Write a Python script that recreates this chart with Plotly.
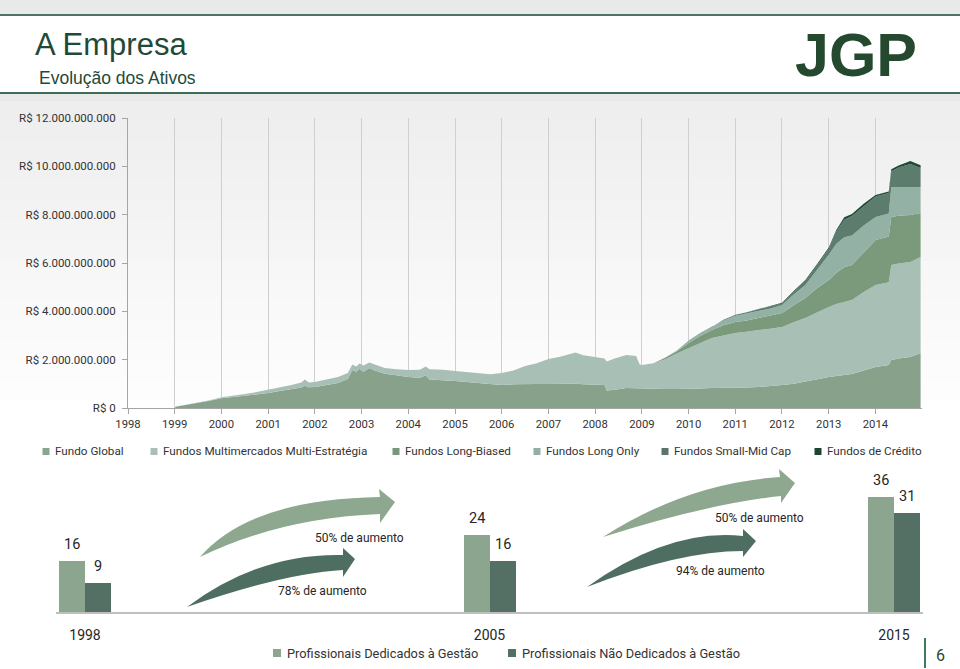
import plotly.graph_objects as go

W, H = 960, 669


def px(x):
    return x / W


def py(y):
    return 1 - y / H


# ---------------- DATA: AUM by fund (R$ billions) ----------------
dates = [
    "1999-01-05", "1999-04-01", "1999-07-01", "1999-10-01", "2000-01-03", "2000-04-03",
    "2000-07-03", "2000-10-02", "2001-01-02", "2001-04-02", "2001-07-02", "2001-09-17",
    "2001-10-15", "2001-11-15", "2002-01-02", "2002-04-01", "2002-07-01", "2002-09-16",
    "2002-10-21", "2002-11-20", "2002-12-16", "2003-01-15", "2003-03-03", "2003-04-15",
    "2003-07-01", "2003-10-01", "2004-01-02", "2004-04-01", "2004-05-17", "2004-06-15",
    "2004-10-01", "2005-01-03", "2005-07-01", "2005-10-03", "2006-01-02", "2006-04-03",
    "2006-07-03", "2006-10-02", "2007-01-02", "2007-04-02", "2007-08-01", "2007-10-01",
    "2008-01-02", "2008-03-14", "2008-04-01", "2008-06-02", "2008-09-01", "2008-11-17",
    "2008-12-15", "2009-01-02", "2009-04-01", "2009-07-01", "2009-10-01", "2010-01-04",
    "2010-04-01", "2010-07-01", "2010-10-01", "2011-01-03", "2011-04-01", "2011-07-01",
    "2011-10-03", "2012-01-02", "2012-04-02", "2012-07-02", "2012-10-01", "2012-11-15",
    "2013-01-02", "2013-03-01", "2013-05-02", "2013-07-01", "2013-10-01", "2014-01-02",
    "2014-04-15", "2014-05-05", "2014-07-01", "2014-10-01", "2014-12-20",
]
fundo_global = [
    0.05, 0.12, 0.20, 0.30, 0.40, 0.45, 0.50, 0.55, 0.62, 0.70, 0.79, 0.85,
    0.92, 0.86, 0.87, 0.95, 1.03, 1.20, 1.57, 1.50, 1.62, 1.50, 1.65, 1.55,
    1.42, 1.35, 1.28, 1.25, 1.35, 1.18, 1.15, 1.12, 1.03, 1.00, 0.95, 0.98,
    1.00, 0.99, 0.99, 1.00, 1.00, 0.98, 0.95, 0.95, 0.72, 0.75, 0.83, 0.82,
    0.80, 0.79, 0.79, 0.79, 0.79, 0.79, 0.81, 0.83, 0.83, 0.83, 0.85, 0.87,
    0.90, 0.95, 1.00, 1.08, 1.18, 1.23, 1.28, 1.33, 1.38, 1.41, 1.55, 1.70,
    1.78, 1.99, 2.05, 2.11, 2.28,
]
multi_estrategia = [
    0.00, 0.01, 0.02, 0.02, 0.04, 0.05, 0.08, 0.11, 0.13, 0.15, 0.16, 0.20,
    0.26, 0.20, 0.21, 0.23, 0.25, 0.25, 0.23, 0.22, 0.22, 0.26, 0.23, 0.25,
    0.23, 0.25, 0.29, 0.33, 0.37, 0.42, 0.43, 0.41, 0.43, 0.40, 0.50, 0.57,
    0.74, 0.86, 1.04, 1.12, 1.30, 1.20, 1.16, 1.10, 1.20, 1.30, 1.36, 1.33,
    1.00, 0.99, 1.06, 1.23, 1.46, 1.69, 1.89, 2.07, 2.17, 2.27, 2.30, 2.36,
    2.38, 2.40, 2.55, 2.64, 2.77, 2.84, 2.90, 2.97, 3.02, 3.06, 3.25, 3.39,
    3.42, 3.93, 3.93, 3.93, 3.97,
]
long_biased = [0.0] * 51 + [
    0.06, 0.10, 0.22, 0.28, 0.33, 0.42, 0.46, 0.47, 0.49,
    0.52, 0.58, 0.70, 0.83, 1.00, 1.06, 1.12, 1.30, 1.42, 1.45, 1.65, 1.86,
    1.90, 1.98, 1.97, 1.95, 1.82,
]
long_only = [0.0] * 52 + [
    0.03, 0.10, 0.12, 0.12, 0.20, 0.26, 0.30, 0.30,
    0.32, 0.33, 0.45, 0.54, 0.75, 0.90, 1.05, 1.20, 1.25, 1.22, 1.10, 0.95,
    0.95, 1.24, 1.19, 1.15, 1.07,
]
small_mid_cap = [0.0] * 56 + [
    0.03, 0.04, 0.04, 0.05,
    0.06, 0.06, 0.10, 0.16, 0.20, 0.22, 0.25, 0.50, 0.72, 0.80, 0.80, 0.85,
    0.85, 0.66, 0.81, 0.96, 0.79,
]
credito = [0.0] * 59 + [
    0.03,
    0.04, 0.04, 0.04, 0.05, 0.05, 0.05, 0.05, 0.07, 0.10, 0.09, 0.10, 0.06,
    0.06, 0.08, 0.08, 0.12, 0.12,
]
fund_names = [
    "Fundo Global",
    "Fundos Multimercados Multi-Estratégia",
    "Fundos Long-Biased",
    "Fundos Long Only",
    "Fundos Small-Mid Cap",
    "Fundos de Crédito",
]
years = list(range(1998, 2015))
y_ticks_bn = [0, 2, 4, 6, 8, 10, 12]
y_ticktext = ["R$ 0", "R$ 2.000.000.000", "R$ 4.000.000.000", "R$ 6.000.000.000",
              "R$ 8.000.000.000", "R$ 10.000.000.000", "R$ 12.000.000.000"]

# team size
team_years = ["1998", "2005", "2015"]
dedicados = [16, 24, 36]
nao_dedicados = [9, 16, 31]
team_names = ["Profissionais Dedicados à Gestão", "Profissionais Não Dedicados à Gestão"]
growth_labels = ["50% de aumento", "78% de aumento", "50% de aumento", "94% de aumento"]

# ---------------- STYLE ----------------
fund_colors = ["#87A18A", "#A8BFB5", "#7B9A7C", "#93B1A4", "#5C7C6E", "#1E4A36"]
legend_colors = ["#8AA48D", "#AAC0B6", "#78977A", "#93AFA2", "#5A7568", "#1D4430"]
team_colors = ["#8BA58E", "#546F64"]
DARK = "#1F4A38"
CAL = "Roboto, Lato, sans-serif"
ARIAL = "Liberation Sans, Arial, sans-serif"

fig = go.Figure()

series = [fundo_global, multi_estrategia, long_biased, long_only, small_mid_cap, credito]
for name, vals, col in zip(fund_names, series, fund_colors):
    fig.add_trace(go.Scatter(
        x=dates, y=[v * 1e9 for v in vals], name=name, stackgroup="aum",
        mode="lines", line=dict(width=0, color=col), fillcolor=col,
        showlegend=False, hoverinfo="x+y+name", xaxis="x", yaxis="y",
    ))

bw = 26 / 404.5
cat_x = list(range(len(team_years)))
for vals, name, col, off in [(dedicados, team_names[0], team_colors[0], -bw),
                             (nao_dedicados, team_names[1], team_colors[1], 0)]:
    fig.add_trace(go.Bar(
        x=cat_x, y=vals, name=name, marker=dict(color=col, line=dict(width=0)),
        width=bw, offset=off, xaxis="x2", yaxis="y2", showlegend=False,
    ))

shapes = []
ann = []

# background / header decoration
shapes.append(dict(type="rect", xref="paper", yref="paper", x0=0, x1=1, y0=py(14), y1=1,
                   fillcolor="#E7EAE8", line=dict(width=0), layer="below"))
shapes.append(dict(type="rect", xref="paper", yref="paper", x0=0, x1=1, y0=py(101), y1=py(94),
                   fillcolor="#E7EAE8", line=dict(width=0), layer="below"))
n_strips = 16
for i in range(n_strips):
    y0 = 101 + i * 20
    g = int(238 + (255 - 238) * i / (n_strips - 1))
    shapes.append(dict(type="rect", xref="paper", yref="paper", x0=0, x1=1,
                       y0=py(y0 + 20), y1=py(y0), fillcolor=f"rgb({g},{g},{g})",
                       line=dict(width=0), layer="below"))
shapes.append(dict(type="line", xref="paper", yref="paper", x0=0, x1=1, y0=py(15), y1=py(15),
                   line=dict(color="#4A7663", width=2)))
shapes.append(dict(type="line", xref="paper", yref="paper", x0=0, x1=1, y0=py(93), y1=py(93),
                   line=dict(color="#3F6B57", width=2)))
shapes.append(dict(type="line", xref="paper", yref="paper", x0=px(925), x1=px(925),
                   y0=py(668), y1=py(638), line=dict(color="#3F7A5F", width=2)))


def arrow_path(tail, uc, ue, ht, tip, hb, le, lc):
    pts = lambda p: f"{px(p[0]):.5f},{py(p[1]):.5f}"
    return (f"M {pts(tail)} Q {pts(uc)} {pts(ue)} L {pts(ht)} L {pts(tip)} L {pts(hb)} "
            f"L {pts(le)} Q {pts(lc)} {pts(tail)} Z")


arrows = [
    ("#8EA890", (200, 557), (250, 499), (380, 497), (379, 489), (395, 502), (380, 523), (380, 514), (280, 518)),
    ("#4F6E62", (187, 607), (259, 553), (343, 555), (343, 548), (355, 559), (343, 577), (343, 570), (285, 573)),
    ("#8EA890", (603, 537), (687, 483), (780, 477), (779, 469), (795, 483), (781, 503), (781, 496), (707, 504)),
    ("#4F6E62", (587, 587), (669, 528), (743, 536), (743, 529), (756, 541), (743, 557), (743, 551), (679, 551)),
]
for col, *pts in arrows:
    shapes.append(dict(type="path", xref="paper", yref="paper", path=arrow_path(*pts),
                       fillcolor=col, line=dict(width=0)))

# top legend (manual)
leg_x = [46, 154, 396, 537, 665, 818]
for xs, name, col in zip(leg_x, fund_names, legend_colors):
    shapes.append(dict(type="rect", xref="paper", yref="paper", x0=px(xs - 3.5), x1=px(xs + 3.5),
                       y0=py(455), y1=py(448), fillcolor=col, line=dict(width=0)))
    ann.append(dict(xref="paper", yref="paper", x=px(xs + 7), y=py(451.5), xanchor="left",
                    yanchor="middle", text=name, showarrow=False,
                    font=dict(family=CAL, size=11.7, color="#333333")))

# bottom legend (manual)
for xs, name, col in zip([277, 512], team_names, team_colors):
    shapes.append(dict(type="rect", xref="paper", yref="paper", x0=px(xs - 4), x1=px(xs + 4),
                       y0=py(657), y1=py(649), fillcolor=col, line=dict(width=0)))
    ann.append(dict(xref="paper", yref="paper", x=px(xs + 8), y=py(653), xanchor="left",
                    yanchor="middle", text=name, showarrow=False,
                    font=dict(family=CAL, size=12.8, color="#333333")))

# bar value labels
for i in cat_x:
    for vals, off in [(dedicados, -bw / 2), (nao_dedicados, bw / 2)]:
        ann.append(dict(xref="x2", yref="y2", x=i + off, y=vals[i], yanchor="bottom", yshift=6,
                        text=str(vals[i]), showarrow=False,
                        font=dict(family=CAL, size=14.5, color="#262626")))

# growth labels
for (xc, yc), t in zip([(359, 538), (322, 591), (759, 518), (720, 571)], growth_labels):
    ann.append(dict(xref="paper", yref="paper", x=px(xc), y=py(yc), xanchor="center",
                    yanchor="middle", text=t, showarrow=False,
                    font=dict(family=CAL, size=12, color="#262626")))

# header texts
ann.append(dict(xref="paper", yref="paper", x=px(33), y=py(45), xanchor="left", yanchor="middle",
                text="A Empresa", showarrow=False, font=dict(family=ARIAL, size=31, color=DARK)))
ann.append(dict(xref="paper", yref="paper", x=px(37), y=py(78), xanchor="left", yanchor="middle",
                text="Evolução dos Ativos", showarrow=False, font=dict(family=ARIAL, size=17.5, color=DARK)))
ann.append(dict(xref="paper", yref="paper", x=px(856), y=py(55), xanchor="center", yanchor="middle",
                text="<b>JGP</b>", showarrow=False, font=dict(family=ARIAL, size=61, color="#24492F")))
ann.append(dict(xref="paper", yref="paper", x=px(940), y=py(655), xanchor="center", yanchor="middle",
                text="6", showarrow=False, font=dict(family=CAL, size=16, color=DARK)))

fig.update_layout(
    template="none",
    width=W, height=H, autosize=False,
    margin=dict(l=0, r=0, t=0, b=0, pad=0, autoexpand=False),
    paper_bgcolor="white", plot_bgcolor="rgba(0,0,0,0)",
    showlegend=False, bargap=0,
    xaxis=dict(domain=[px(128), px(922)], anchor="y", type="date", automargin=False,
               range=["1998-01-01", "2014-12-31"],
               tickvals=[f"{y}-01-01" for y in years], ticktext=[str(y) for y in years],
               ticks="outside", ticklen=5, tickcolor="#A6A6A6", showline=True,
               linecolor="#A6A6A6", showgrid=True, gridcolor="#CFCFCF", gridwidth=1,
               zeroline=False, tickfont=dict(family=CAL, size=11.3, color="#333333")),
    yaxis=dict(domain=[py(408), py(118)], anchor="x", range=[0, 12e9], automargin=False,
               tickvals=[v * 1e9 for v in y_ticks_bn], ticktext=y_ticktext,
               ticks="outside", ticklen=5, tickcolor="#A6A6A6", showline=True,
               linecolor="#A6A6A6", showgrid=False, zeroline=False, ticklabelstandoff=4,
               tickfont=dict(family=CAL, size=11.5, color="#333333")),
    xaxis2=dict(domain=[px(56), px(923)], anchor="y2", range=[-0.0717, 2.0717], automargin=False,
                tickvals=cat_x, ticktext=team_years, ticks="outside", ticklen=9,
                tickcolor="rgba(0,0,0,0)", showline=True, linecolor="#BFBFBF", linewidth=1.5,
                showgrid=False, zeroline=False,
                tickfont=dict(family=CAL, size=14, color="#262626")),
    yaxis2=dict(domain=[py(612), py(470)], anchor="x2", range=[0, 44.5], visible=False,
                automargin=False),
    shapes=shapes, annotations=ann,
)

fig.write_html("out.html", config={"displayModeBar": False},
               post_script="document.body.style.margin='0px';document.body.style.overflow='hidden';")
